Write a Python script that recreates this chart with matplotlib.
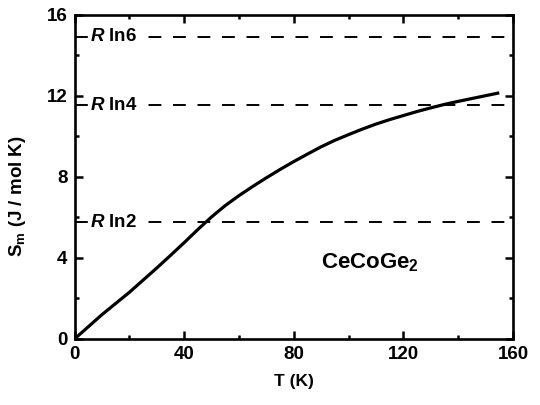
import numpy as np
import matplotlib
matplotlib.use("Agg")
import matplotlib.pyplot as plt
from matplotlib.ticker import MultipleLocator

plt.rcParams["font.family"] = ["Liberation Sans", "DejaVu Sans"]
plt.rcParams["font.weight"] = "bold"
plt.rcParams["mathtext.fontset"] = "custom"
plt.rcParams["mathtext.rm"] = "Liberation Sans:bold"
plt.rcParams["mathtext.bf"] = "Liberation Sans:bold"
plt.rcParams["mathtext.it"] = "Liberation Sans:italic:bold"

# Magnetic entropy of CeCoGe2
temperature = [0, 5, 10, 15, 20, 25, 30, 35, 40, 45, 50, 55, 60, 65, 70,
               75, 80, 85, 90, 95, 100, 105, 110, 115, 120, 125, 130, 135,
               140, 145, 150, 155]
entropy = [0, 0.6, 1.2, 1.75, 2.3, 2.9, 3.5, 4.12, 4.75, 5.4, 6.02, 6.58,
           7.07, 7.52, 7.95, 8.36, 8.75, 9.12, 9.48, 9.8, 10.08, 10.35,
           10.6, 10.82, 11.02, 11.22, 11.4, 11.57, 11.72, 11.86, 12.0,
           12.14]

R = 8.314
levels = [R * np.log(6), R * np.log(4), R * np.log(2)]
level_labels = [r"$R$ ln6", r"$R$ ln4", r"$R$ ln2"]

fig = plt.figure(figsize=(5.4, 4.05), dpi=100)
ax = fig.add_axes([0.138, 0.163, 0.812, 0.801])

for lvl, lab in zip(levels, level_labels):
    ax.axhline(lvl, color="black", lw=1.4, linestyle=(0, (6.6, 6.0)), zorder=1)
    ax.text(5.6, lvl, lab, fontsize=13.5, fontweight="bold", va="center",
            ha="left", zorder=2,
            bbox=dict(facecolor="white", edgecolor="none", pad=1.5))

ax.plot(temperature, entropy, color="black", lw=2.3, zorder=3,
        solid_capstyle="butt", solid_joinstyle="round")

ax.text(90, 3.75, r"CeCoGe$_2$", fontsize=16, fontweight="bold",
        va="center", ha="left")

ax.set_xlim(0, 160)
ax.set_ylim(0, 16)
ax.xaxis.set_major_locator(MultipleLocator(40))
ax.xaxis.set_minor_locator(MultipleLocator(20))
ax.yaxis.set_major_locator(MultipleLocator(4))
ax.yaxis.set_minor_locator(MultipleLocator(2))
ax.tick_params(which="both", direction="in", top=True, right=True,
               width=1.8, labelsize=13.5, pad=5)
ax.tick_params(which="major", length=6)
ax.tick_params(which="minor", length=3)
for s in ax.spines.values():
    s.set_linewidth(1.9)

ax.set_xlabel("T (K)", fontsize=12.5, fontweight="bold", labelpad=8)
ax.set_ylabel(r"S$_\mathrm{m}$ (J / mol K)", fontsize=13.5,
              fontweight="bold")
ax.yaxis.set_label_coords(-0.105, 0.44)

fig.savefig("out.png", dpi=100)
